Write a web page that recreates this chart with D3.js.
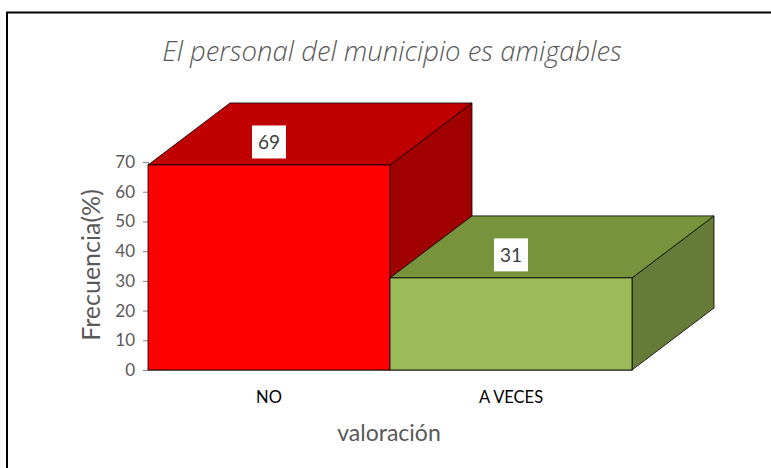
<!DOCTYPE html>
<html>
<head>
<meta charset="utf-8">
<script src="https://cdn.jsdelivr.net/npm/d3@7/dist/d3.min.js"></script>
<style>
  html, body { margin: 0; padding: 0; background: #fff; }
  svg { display: block; }
</style>
</head>
<body>
<svg id="chart" width="771" height="468"></svg>
<script>
const categories = ["NO", "A VECES"];
const values = [69, 31];
const yTicks = [0, 10, 20, 30, 40, 50, 60, 70];
const title = "El personal del municipio es amigables";
const yTitle = "Frecuencia(%)";
const xTitle = "valoración";
const frontColors = ["#FF0000", "#9BBB59"];
const topColors = ["#C00000", "#77933C"];
const sideColors = ["#A00000", "#657B37"];

const svg = d3.select("#chart");
const font = "Lato, 'Open Sans', sans-serif";

// frame
svg.append("rect").attr("x", 7).attr("y", 12.5).attr("width", 780).attr("height", 480)
  .attr("fill", "#fff").attr("stroke", "#000").attr("stroke-width", 2);

const x = d3.scaleBand().domain(categories).range([148, 632]).padding(0);
const y = d3.scaleLinear().domain([0, 70]).range([370, 162]);
const dx = 82, dy = -62;

// title
svg.append("text").attr("x", 392).attr("y", 61).attr("text-anchor", "middle")
  .attr("font-family", "'Open Sans', Lato, sans-serif").attr("font-style", "italic").attr("font-weight", 300)
  .attr("font-size", 27.5).attr("fill", "#595959").text(title);

// y axis
const yAxis = d3.axisLeft(y).tickValues(yTicks).tickSize(5).tickPadding(8);
const gy = svg.append("g").attr("transform", "translate(148,0)").call(yAxis);
gy.select(".domain").attr("stroke", "#868686");
gy.selectAll(".tick line").attr("stroke", "#868686");
gy.selectAll(".tick text").attr("font-family", font).attr("font-size", 17).attr("fill", "#595959");

// x axis
const xAxis = d3.axisBottom(x).tickSize(0).tickPadding(21);
const gx = svg.append("g").attr("transform", "translate(0,370)").call(xAxis);
gx.select(".domain").attr("stroke", "#868686");
gx.selectAll(".tick text").attr("font-family", font).attr("font-size", 16.5).attr("fill", "#000");

// bars
const line = d3.line();
categories.forEach((c, i) => {
  const x0 = x(c), x1 = x(c) + x.bandwidth();
  const yt = y(values[i]), yb = y(0);
  const g = svg.append("g");
  // side
  g.append("path").attr("d", line([[x1, yt], [x1 + dx, yt + dy], [x1 + dx, yb + dy], [x1, yb]]) + "Z")
    .attr("fill", sideColors[i]).attr("stroke", "#000").attr("stroke-width", 0.8);
  // top
  g.append("path").attr("d", line([[x0, yt], [x0 + dx, yt + dy], [x1 + dx, yt + dy], [x1, yt]]) + "Z")
    .attr("fill", topColors[i]).attr("stroke", "#000").attr("stroke-width", 0.8);
  // front
  g.append("rect").attr("x", x0).attr("y", yt).attr("width", x1 - x0).attr("height", yb - yt)
    .attr("fill", frontColors[i]).attr("stroke", "#000").attr("stroke-width", 0.8);
});

// labels
categories.forEach((c, i) => {
  const cx = x(c) + x.bandwidth() / 2;
  const cy = y(values[i]) - 23;
  svg.append("rect").attr("x", cx - 17).attr("y", cy - 16.5).attr("width", 34).attr("height", 33)
    .attr("fill", "#fff");
  svg.append("text").attr("x", cx).attr("y", cy).attr("dy", "0.36em").attr("text-anchor", "middle")
    .attr("font-family", font).attr("font-size", 19).attr("fill", "#404040").text(values[i]);
});

// axis titles
svg.append("text").attr("transform", "translate(100,265) rotate(-90)").attr("text-anchor", "middle")
  .attr("font-family", font).attr("font-size", 25).attr("fill", "#595959").text(yTitle);
svg.append("text").attr("x", 389).attr("y", 441).attr("text-anchor", "middle")
  .attr("font-family", font).attr("font-size", 23).attr("fill", "#595959").text(xTitle);
</script>
</body>
</html>
